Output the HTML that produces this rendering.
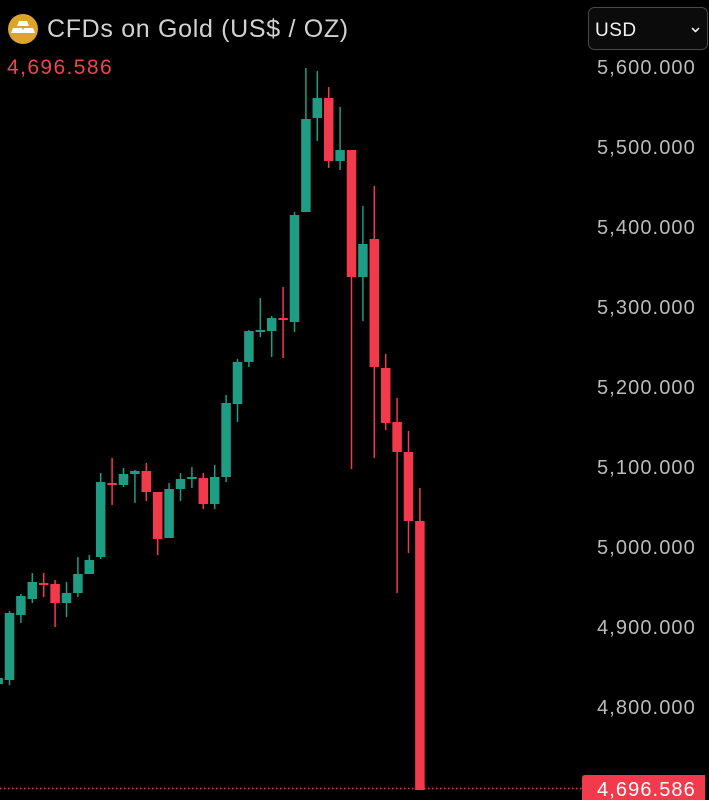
<!DOCTYPE html>
<html>
<head>
<meta charset="utf-8">
<style>
html,body{margin:0;padding:0;background:#000;}
svg{display:block;}
text{font-family:"Liberation Sans",Arial,sans-serif;}
</style>
</head>
<body>
<svg width="709" height="800" viewBox="0 0 709 800" xmlns="http://www.w3.org/2000/svg">
<rect width="709" height="800" fill="#000"/>

<!-- header icon -->
<circle cx="23" cy="29" r="15" fill="#dca42a"/>
<polygon points="19,21 27,21 29,26 17,26" fill="#fff"/>
<polygon points="13,28 22,28 24,33 11,33" fill="#fff"/>
<polygon points="24,28 33,28 35,33 22,33" fill="#fff"/>
<text x="47" y="37" font-size="25" fill="#d2d2d2" letter-spacing="0.68">CFDs on Gold (US$ / OZ)</text>
<text x="7" y="74" font-size="21" fill="#f0434f" letter-spacing="1.4">4,696.586</text>

<!-- USD selector -->
<rect x="588.5" y="7.5" width="119" height="42" rx="6" fill="#0b0b0b" stroke="#4a4a4a" stroke-width="1"/>
<text x="595" y="36" font-size="19" fill="#f2f2f2" letter-spacing="0.5">USD</text>
<polyline points="692.5,28.5 695.5,31.5 698.5,28.5" fill="none" stroke="#e8e8e8" stroke-width="1.6" stroke-linecap="round" stroke-linejoin="round"/>

<!-- axis labels -->
<g font-size="20" fill="#bcbcbc" letter-spacing="1.1">
<text x="597" y="74">5,600.000</text>
<text x="597" y="154">5,500.000</text>
<text x="597" y="234">5,400.000</text>
<text x="597" y="314">5,300.000</text>
<text x="597" y="394">5,200.000</text>
<text x="597" y="474">5,100.000</text>
<text x="597" y="554">5,000.000</text>
<text x="597" y="634">4,900.000</text>
<text x="597" y="714">4,800.000</text>
</g>

<!-- last price dotted line -->
<line x1="0" y1="788.5" x2="582" y2="788.5" stroke="#f23645" stroke-width="1.5" stroke-dasharray="1.5,2.5"/>

<!-- candles -->
<g id="candles">
<!-- G = #1f9c84, R = #f23a4c -->
<!-- i0 x=-1.9 -->
<line x1="-1.9" y1="676" x2="-1.9" y2="686" stroke="#1f9c84" stroke-width="1.5"/><rect x="-6.6" y="678" width="9.5" height="6" fill="#1f9c84"/>
<!-- i1 x=9.5 -->
<line x1="9.5" y1="611" x2="9.5" y2="685" stroke="#1f9c84" stroke-width="1.5"/><rect x="4.75" y="613" width="9.5" height="67" fill="#1f9c84"/>
<!-- i2 x=20.9 -->
<line x1="20.9" y1="594" x2="20.9" y2="623" stroke="#1f9c84" stroke-width="1.5"/><rect x="16.15" y="596" width="9.5" height="19" fill="#1f9c84"/>
<!-- i3 x=32.3 -->
<line x1="32.3" y1="573" x2="32.3" y2="603" stroke="#1f9c84" stroke-width="1.5"/><rect x="27.55" y="582" width="9.5" height="17" fill="#1f9c84"/>
<!-- i4 x=43.7 R doji -->
<line x1="43.7" y1="573" x2="43.7" y2="597" stroke="#f23a4c" stroke-width="1.5"/><rect x="38.95" y="583" width="9.5" height="2" fill="#f23a4c"/>
<!-- i5 x=55.1 R -->
<line x1="55.1" y1="580" x2="55.1" y2="627" stroke="#f23a4c" stroke-width="1.5"/><rect x="50.35" y="584" width="9.5" height="19" fill="#f23a4c"/>
<!-- i6 x=66.5 -->
<line x1="66.5" y1="582" x2="66.5" y2="617" stroke="#1f9c84" stroke-width="1.5"/><rect x="61.75" y="593" width="9.5" height="10" fill="#1f9c84"/>
<!-- i7 x=77.9 -->
<line x1="77.9" y1="557" x2="77.9" y2="597" stroke="#1f9c84" stroke-width="1.5"/><rect x="73.15" y="574" width="9.5" height="19" fill="#1f9c84"/>
<!-- i8 x=89.3 -->
<line x1="89.3" y1="555" x2="89.3" y2="574" stroke="#1f9c84" stroke-width="1.5"/><rect x="84.55" y="560" width="9.5" height="14" fill="#1f9c84"/>
<!-- i9 x=100.7 -->
<line x1="100.7" y1="473" x2="100.7" y2="559" stroke="#1f9c84" stroke-width="1.5"/><rect x="95.95" y="482" width="9.5" height="75" fill="#1f9c84"/>
<!-- i10 x=112.1 R doji -->
<line x1="112.1" y1="458" x2="112.1" y2="505" stroke="#f23a4c" stroke-width="1.5"/><rect x="107.35" y="483" width="9.5" height="2" fill="#f23a4c"/>
<!-- i11 x=123.5 -->
<line x1="123.5" y1="468" x2="123.5" y2="487" stroke="#1f9c84" stroke-width="1.5"/><rect x="118.75" y="474" width="9.5" height="11" fill="#1f9c84"/>
<!-- i12 x=134.9 -->
<line x1="134.9" y1="470" x2="134.9" y2="503" stroke="#1f9c84" stroke-width="1.5"/><rect x="130.15" y="471" width="9.5" height="3" fill="#1f9c84"/>
<!-- i13 x=146.3 R -->
<line x1="146.3" y1="463" x2="146.3" y2="501" stroke="#f23a4c" stroke-width="1.5"/><rect x="141.55" y="471" width="9.5" height="21" fill="#f23a4c"/>
<!-- i14 x=157.7 R -->
<line x1="157.7" y1="492" x2="157.7" y2="555" stroke="#f23a4c" stroke-width="1.5"/><rect x="152.95" y="492" width="9.5" height="47" fill="#f23a4c"/>
<!-- i15 x=169.1 -->
<line x1="169.1" y1="483" x2="169.1" y2="538" stroke="#1f9c84" stroke-width="1.5"/><rect x="164.35" y="489" width="9.5" height="49" fill="#1f9c84"/>
<!-- i16 x=180.5 -->
<line x1="180.5" y1="473" x2="180.5" y2="501" stroke="#1f9c84" stroke-width="1.5"/><rect x="175.75" y="479" width="9.5" height="10" fill="#1f9c84"/>
<!-- i17 x=191.9 doji -->
<line x1="191.9" y1="467" x2="191.9" y2="488" stroke="#1f9c84" stroke-width="1.5"/><rect x="187.15" y="477" width="9.5" height="2" fill="#1f9c84"/>
<!-- i18 x=203.3 R -->
<line x1="203.3" y1="473" x2="203.3" y2="509" stroke="#f23a4c" stroke-width="1.5"/><rect x="198.55" y="478" width="9.5" height="26" fill="#f23a4c"/>
<!-- i19 x=214.7 -->
<line x1="214.7" y1="465" x2="214.7" y2="509" stroke="#1f9c84" stroke-width="1.5"/><rect x="209.95" y="477" width="9.5" height="27" fill="#1f9c84"/>
<!-- i20 x=226.1 -->
<line x1="226.1" y1="395" x2="226.1" y2="482" stroke="#1f9c84" stroke-width="1.5"/><rect x="221.35" y="403" width="9.5" height="74" fill="#1f9c84"/>
<!-- i21 x=237.5 -->
<line x1="237.5" y1="359" x2="237.5" y2="422" stroke="#1f9c84" stroke-width="1.5"/><rect x="232.75" y="362" width="9.5" height="42" fill="#1f9c84"/>
<!-- i22 x=248.9 -->
<line x1="248.9" y1="330" x2="248.9" y2="367" stroke="#1f9c84" stroke-width="1.5"/><rect x="244.15" y="331" width="9.5" height="31" fill="#1f9c84"/>
<!-- i23 x=260.3 doji -->
<line x1="260.3" y1="298" x2="260.3" y2="337" stroke="#1f9c84" stroke-width="1.5"/><rect x="255.55" y="330" width="9.5" height="2" fill="#1f9c84"/>
<!-- i24 x=271.7 -->
<line x1="271.7" y1="316" x2="271.7" y2="357" stroke="#1f9c84" stroke-width="1.5"/><rect x="266.95" y="318" width="9.5" height="13" fill="#1f9c84"/>
<!-- i25 x=283.1 R doji -->
<line x1="283.1" y1="287" x2="283.1" y2="358" stroke="#f23a4c" stroke-width="1.5"/><rect x="278.35" y="318" width="9.5" height="2" fill="#f23a4c"/>
<!-- i26 x=294.5 -->
<line x1="294.5" y1="212" x2="294.5" y2="332" stroke="#1f9c84" stroke-width="1.5"/><rect x="289.75" y="215" width="9.5" height="107" fill="#1f9c84"/>
<!-- i27 x=305.9 -->
<line x1="305.9" y1="68" x2="305.9" y2="212" stroke="#1f9c84" stroke-width="1.5"/><rect x="301.15" y="119" width="9.5" height="93" fill="#1f9c84"/>
<!-- i28 x=317.3 -->
<line x1="317.3" y1="71" x2="317.3" y2="141" stroke="#1f9c84" stroke-width="1.5"/><rect x="312.55" y="98" width="9.5" height="20" fill="#1f9c84"/>
<!-- i29 x=328.7 R -->
<line x1="328.7" y1="87" x2="328.7" y2="168" stroke="#f23a4c" stroke-width="1.5"/><rect x="323.95" y="98" width="9.5" height="63" fill="#f23a4c"/>
<!-- i30 x=340.1 -->
<line x1="340.1" y1="107" x2="340.1" y2="170" stroke="#1f9c84" stroke-width="1.5"/><rect x="335.35" y="150" width="9.5" height="11" fill="#1f9c84"/>
<!-- i31 x=351.5 R -->
<line x1="351.5" y1="150" x2="351.5" y2="469" stroke="#f23a4c" stroke-width="1.5"/><rect x="346.75" y="150" width="9.5" height="127" fill="#f23a4c"/>
<!-- i32 x=362.9 -->
<line x1="362.9" y1="206" x2="362.9" y2="321" stroke="#1f9c84" stroke-width="1.5"/><rect x="358.15" y="244" width="9.5" height="33" fill="#1f9c84"/>
<!-- i33 x=374.3 R -->
<line x1="374.3" y1="186" x2="374.3" y2="458" stroke="#f23a4c" stroke-width="1.5"/><rect x="369.55" y="239" width="9.5" height="128" fill="#f23a4c"/>
<!-- i34 x=385.7 R -->
<line x1="385.7" y1="354" x2="385.7" y2="430" stroke="#f23a4c" stroke-width="1.5"/><rect x="380.95" y="368" width="9.5" height="55" fill="#f23a4c"/>
<!-- i35 x=397.1 R -->
<line x1="397.1" y1="398" x2="397.1" y2="593" stroke="#f23a4c" stroke-width="1.5"/><rect x="392.35" y="422" width="9.5" height="30" fill="#f23a4c"/>
<!-- i36 x=408.5 R -->
<line x1="408.5" y1="431" x2="408.5" y2="553" stroke="#f23a4c" stroke-width="1.5"/><rect x="403.75" y="452" width="9.5" height="69" fill="#f23a4c"/>
<!-- i37 x=419.9 R -->
<line x1="419.9" y1="488" x2="419.9" y2="790" stroke="#f23a4c" stroke-width="1.5"/><rect x="415.15" y="521" width="9.5" height="269" fill="#f23a4c"/>
</g>

<!-- last price label -->
<path d="M585,775 H705 V800 H582 V778 Q582,775 585,775 Z" fill="#f23a4c"/>
<text x="597" y="796" font-size="20" fill="#ffffff" letter-spacing="1.1">4,696.586</text>
</svg>
</body>
</html>
